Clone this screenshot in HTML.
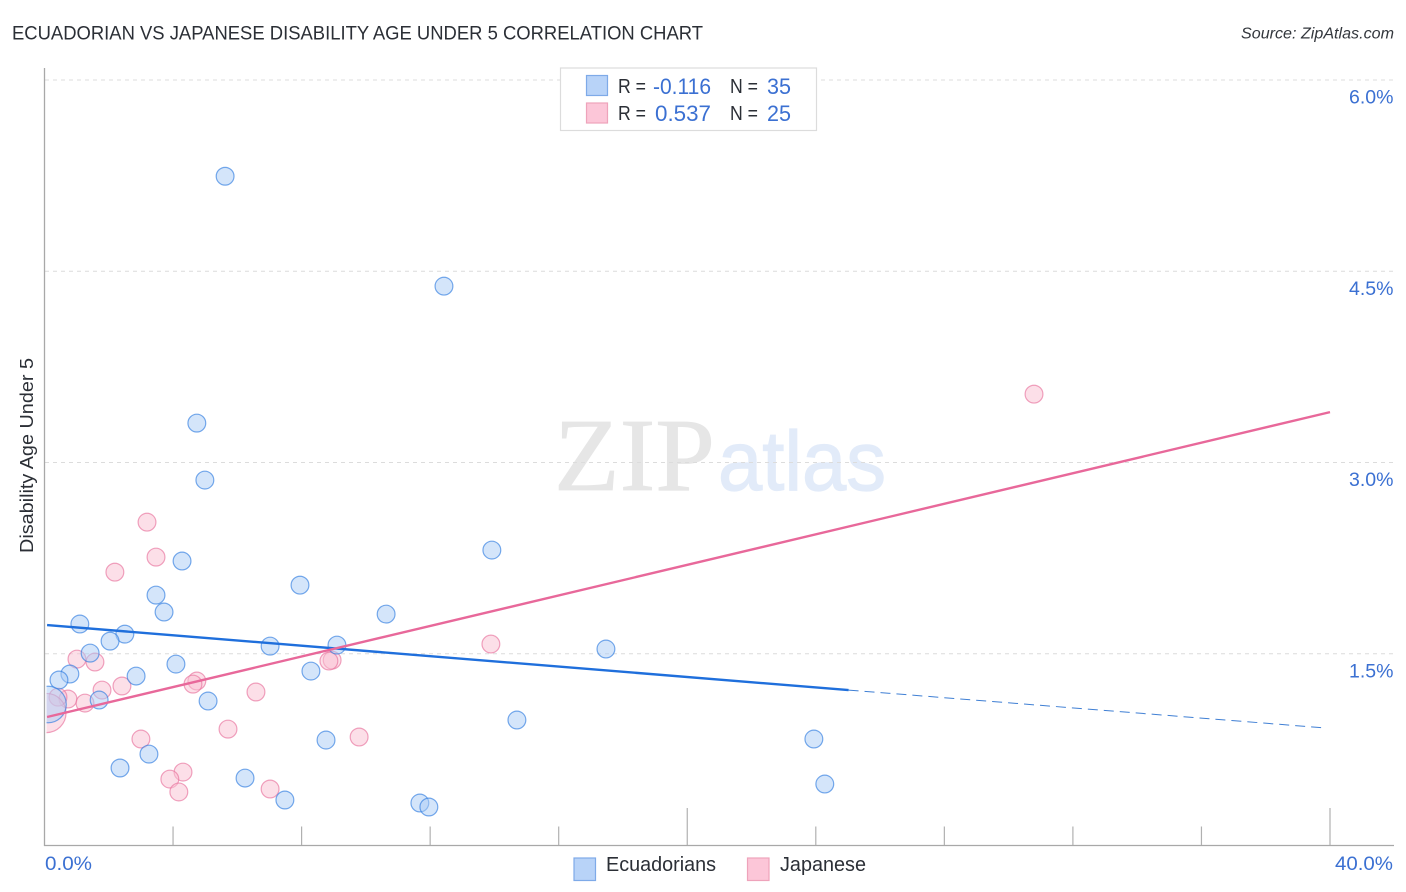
<!DOCTYPE html>
<html lang="en">
<head>
<meta charset="utf-8">
<title>Ecuadorian vs Japanese Disability Age Under 5 Correlation Chart</title>
<style>
html,body{margin:0;padding:0;background:#fff;}
svg{display:block;font-family:"Liberation Sans",sans-serif;}
</style>
</head>
<body>
<svg id="chart" width="1406" height="892" viewBox="0 0 1406 892" xmlns="http://www.w3.org/2000/svg">
  <text x="12" y="39.5" font-size="19.5" fill="#2b2f36" textLength="691" lengthAdjust="spacingAndGlyphs">ECUADORIAN VS JAPANESE DISABILITY AGE UNDER 5 CORRELATION CHART</text>
  <text x="1241" y="38.5" font-size="15.5" font-style="italic" fill="#33373d" textLength="153" lengthAdjust="spacingAndGlyphs">Source: ZipAtlas.com</text>
  <g>
    <text x="554" y="490" font-family="'Liberation Serif',serif" font-size="104" fill="#e6e6e6" stroke="#e6e6e6" stroke-width="0.8" textLength="161" lengthAdjust="spacingAndGlyphs">ZIP</text>
    <text x="718" y="490" font-size="84" fill="#e2ebf9" stroke="#e2ebf9" stroke-width="1.2" textLength="168" lengthAdjust="spacingAndGlyphs">atlas</text>
  </g>
  <g id="grid"></g>
  <g id="y-labels"></g>
  <g id="points"></g>
  <g id="trends"></g>
  <g id="x-axis"></g>
  <line x1="44.5" y1="68" x2="44.5" y2="846" stroke="#a8a8a8" stroke-width="1.3"/>
  <text transform="translate(33,553) rotate(-90)" font-size="18" fill="#2b2f36" textLength="195" lengthAdjust="spacingAndGlyphs">Disability Age Under 5</text>
  <text x="45" y="870" font-size="19.5" fill="#3b70d2" textLength="47" lengthAdjust="spacingAndGlyphs">0.0%</text>
  <text x="1335" y="870" font-size="19.5" fill="#3b70d2" textLength="58" lengthAdjust="spacingAndGlyphs">40.0%</text>
  <g>
    <rect x="560.5" y="68" width="256" height="62.5" fill="#fff" stroke="#dcdcdc" stroke-width="1.2"/>
    <rect x="586.5" y="75.5" width="21" height="20" fill="#b8d3f8" stroke="#7eaae8" stroke-width="1.2"/>
    <rect x="586.5" y="103" width="21" height="20" fill="#fcc6d8" stroke="#eea3bb" stroke-width="1.2"/>
    <text x="618" y="93" font-size="20.5" fill="#2b2f36" textLength="28" lengthAdjust="spacingAndGlyphs">R =</text>
    <text x="653" y="94" font-size="22" fill="#3b70d2" textLength="58" lengthAdjust="spacingAndGlyphs">-0.116</text>
    <text x="730" y="93" font-size="20.5" fill="#2b2f36" textLength="28" lengthAdjust="spacingAndGlyphs">N =</text>
    <text x="767" y="94" font-size="22" fill="#3b70d2" textLength="24" lengthAdjust="spacingAndGlyphs">35</text>
    <text x="618" y="120" font-size="20.5" fill="#2b2f36" textLength="28" lengthAdjust="spacingAndGlyphs">R =</text>
    <text x="655" y="121" font-size="22" fill="#3b70d2" textLength="56" lengthAdjust="spacingAndGlyphs">0.537</text>
    <text x="730" y="120" font-size="20.5" fill="#2b2f36" textLength="28" lengthAdjust="spacingAndGlyphs">N =</text>
    <text x="767" y="121" font-size="22" fill="#3b70d2" textLength="24" lengthAdjust="spacingAndGlyphs">25</text>
  </g>
  <g>
    <rect x="574" y="858" width="21.5" height="22.5" fill="#b8d3f8" stroke="#7eaae8" stroke-width="1.2"/>
    <text x="606" y="871" font-size="20" fill="#2b2f36" textLength="110" lengthAdjust="spacingAndGlyphs">Ecuadorians</text>
    <rect x="747.5" y="858" width="21.5" height="22.5" fill="#fcc6d8" stroke="#eea3bb" stroke-width="1.2"/>
    <text x="780" y="871" font-size="20" fill="#2b2f36" textLength="86" lengthAdjust="spacingAndGlyphs">Japanese</text>
  </g>
</svg>
<script>
const yTickValues = [1.5, 3.0, 4.5, 6.0];
const yTickLabels = ["1.5%", "3.0%", "4.5%", "6.0%"];
const xTickValues = [4, 8, 12, 16, 20, 24, 28, 32, 36, 40];
const xMajorTicks = [20, 40];

const ecuadorianX = [5.62,12.43,4.74,4.99,13.92,4.28,7.95,3.47,3.72,10.63,1.10,2.50,2.04,7.02,9.10,17.47,1.42,4.09,8.29,0.79,2.85,0.45,1.70,5.09,14.70,8.76,23.94,3.25,2.35,6.24,24.28,7.48,11.68,11.96,0.11];
const ecuadorianY = [5.245,4.383,3.309,2.862,2.313,2.227,2.038,1.960,1.827,1.811,1.733,1.654,1.599,1.560,1.568,1.537,1.505,1.419,1.364,1.341,1.325,1.294,1.137,1.129,0.980,0.823,0.831,0.713,0.604,0.525,0.478,0.353,0.329,0.298,1.102];
const ecuadorianWeight = [1,1,1,1,1,1,1,1,1,1,1,1,1,1,1,1,1,1,1,1,1,1,1,1,1,1,1,1,1,1,1,1,1,1,2.05];

const japaneseX = [30.79,3.19,3.47,2.19,13.89,1.01,1.57,8.95,8.85,4.74,4.62,2.41,1.79,6.58,0.73,0.42,1.26,5.71,3.00,9.79,4.31,3.90,4.18,7.02,0.06];
const japaneseY = [3.536,2.532,2.258,2.140,1.576,1.458,1.435,1.450,1.443,1.286,1.262,1.247,1.215,1.200,1.145,1.160,1.113,0.909,0.831,0.847,0.572,0.517,0.416,0.439,1.035];
const japaneseWeight = [1,1,1,1,1,1,1,1,1,1,1,1,1,1,1,1,1,1,1,1,1,1,1,1,2.2];

const ecuadorianTrendX = [0.08, 25.02];
const ecuadorianTrendY = [1.725, 1.215];
const ecuadorianForecastX = [25.02, 39.90];
const ecuadorianForecastY = [1.215, 0.917];
const japaneseTrendX = [0.08, 40];
const japaneseTrendY = [1.004, 3.395];

const NS = 'http://www.w3.org/2000/svg';
const plotLeft = 46.5;
function xScale(v) { return 44.5 + v * (1330 - 44.5) / 40; }
function yScale(v) { return 845 - v * (845 - 80) / 6; }
function make(tag, parent, attrs) {
  const el = document.createElementNS(NS, tag);
  Object.keys(attrs).forEach(function (k) { el.setAttribute(k, attrs[k]); });
  document.getElementById(parent).appendChild(el);
  return el;
}

yTickValues.forEach(function (v, i) {
  const grid = make('line', 'grid', { x1: 45, x2: 1394, y1: yScale(v), y2: yScale(v), stroke: '#dcdcdc', 'stroke-width': 1, 'stroke-dasharray': '4 4' });
  
  
  const label = make('text', 'y-labels', { x: 1393.5, y: yScale(v) + 23.5, 'text-anchor': 'end', 'font-size': 19.5, fill: '#3b70d2' });
  
  
  label.textContent = yTickLabels[i];
});

const xLine = make('line', 'x-axis', { x1: 44, x2: 1394, y1: 845.5, y2: 845.5, stroke: '#a8a8a8', 'stroke-width': 1.3 });


xTickValues.forEach(function (v) {
  const top = xMajorTicks.indexOf(v) >= 0 ? 808 : 826.5;
  const tick = make('line', 'x-axis', { x1: xScale(v), x2: xScale(v), y1: top, y2: 845, stroke: '#b0b0b0', 'stroke-width': 1.2 });
  
  
});

function circlePath(cx, cy, r) {
  if (cx - r >= plotLeft) {
    return 'M' + (cx - r) + ' ' + cy + 'A' + r + ' ' + r + ' 0 1 1 ' + (cx + r) + ' ' + cy + 'A' + r + ' ' + r + ' 0 1 1 ' + (cx - r) + ' ' + cy;
  }
  const dy = Math.sqrt(r * r - (plotLeft - cx) * (plotLeft - cx));
  const large = cx > plotLeft ? 1 : 0;
  return 'M' + plotLeft + ' ' + (cy - dy) + 'A' + r + ' ' + r + ' 0 ' + large + ' 1 ' + plotLeft + ' ' + (cy + dy);
}

function drawSeries(xs, ys, weights, fill, stroke, name) {
  xs.forEach(function (x, i) {
    const d = circlePath(xScale(x), yScale(ys[i]), 8.9 * weights[i]);
    const dot = make('path', 'points', { d: d, fill: fill, 'fill-opacity': 0.5, stroke: stroke, 'stroke-opacity': 0.65, 'stroke-width': 1.2 });
    
    
  });
}
drawSeries(japaneseX, japaneseY, japaneseWeight, '#f9bfd2', '#e8729c', 'point-japanese');
drawSeries(ecuadorianX, ecuadorianY, ecuadorianWeight, '#a9cbf5', '#2f7de0', 'point-ecuadorian');

const forecast = make('line', 'trends', { x1: xScale(ecuadorianForecastX[0]), y1: yScale(ecuadorianForecastY[0]), x2: xScale(ecuadorianForecastX[1]), y2: yScale(ecuadorianForecastY[1]), stroke: '#3f7fd4', 'stroke-width': 1, 'stroke-dasharray': '10 6' });


const blueTrend = make('line', 'trends', { x1: xScale(ecuadorianTrendX[0]), y1: yScale(ecuadorianTrendY[0]), x2: xScale(ecuadorianTrendX[1]), y2: yScale(ecuadorianTrendY[1]), stroke: '#1f6fdc', 'stroke-width': 2.4 });


const pinkTrend = make('line', 'trends', { x1: xScale(japaneseTrendX[0]), y1: yScale(japaneseTrendY[0]), x2: xScale(japaneseTrendX[1]), y2: yScale(japaneseTrendY[1]), stroke: '#e8689a', 'stroke-width': 2.4 });


</script>
</body>
</html>
